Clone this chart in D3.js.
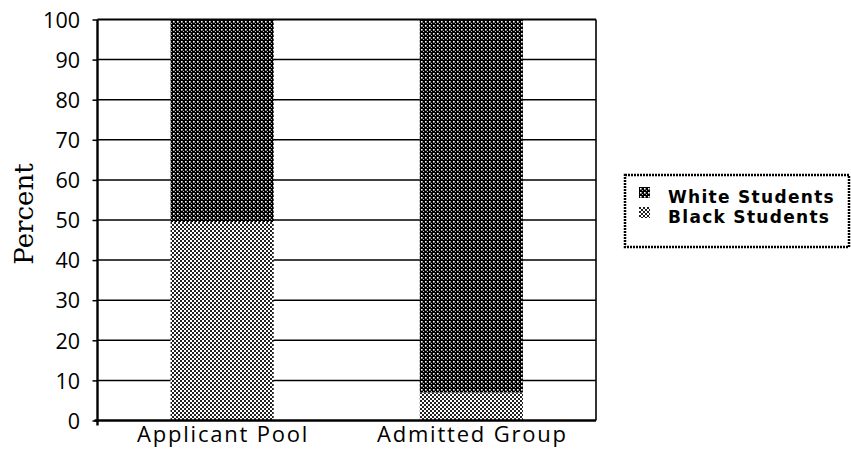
<!DOCTYPE html>
<html><head><meta charset="utf-8">
<script src="https://cdn.jsdelivr.net/npm/d3@7"></script>
<style>body{margin:0;background:#fff}</style>
</head><body>
<svg id="c" width="851" height="463"></svg>
<script>
const categories = ["Applicant Pool", "Admitted Group"];
const seriesNames = ["Black Students", "White Students"];
const blackValues = [49.5, 7];
const whiteValues = [50.5, 93];
const yTicks = [0,10,20,30,40,50,60,70,80,90,100];
const legendOrder = ["White Students", "Black Students"];

(function(){
const svg = d3.select("#c");
const mLeft = 97.5, mRight = 596, mTop = 19.5, mBottom = 420.5;
const defs = svg.append("defs");
const pd = defs.append("pattern").attr("id","pDark").attr("patternUnits","userSpaceOnUse").attr("width",4).attr("height",4);
pd.append("rect").attr("width",4).attr("height",4).attr("fill","#000");
pd.append("rect").attr("x",1).attr("y",1).attr("width",1.6).attr("height",1.6).attr("fill","#fff");
pd.append("rect").attr("x",3).attr("y",3).attr("width",1).attr("height",1).attr("fill","#bbb");
const pl = defs.append("pattern").attr("id","pLight").attr("patternUnits","userSpaceOnUse").attr("width",4).attr("height",4);
pl.append("rect").attr("width",4).attr("height",4).attr("fill","#fff");
pl.append("rect").attr("width",2).attr("height",2).attr("fill","#222");
pl.append("rect").attr("x",2).attr("y",2).attr("width",2).attr("height",2).attr("fill","#222");
const fills = {"White Students":"url(#pDark)","Black Students":"url(#pLight)"};

const x = d3.scaleBand().domain(categories).range([mLeft,mRight]).paddingInner(0.586).paddingOuter(0.293);
const y = d3.scaleLinear().domain([0,100]).range([mBottom,mTop]);

// gridlines
svg.append("g").selectAll("line").data(yTicks.filter(d=>d>0 && d<100)).join("line")
  .attr("x1",mLeft).attr("x2",mRight).attr("y1",d=>y(d)).attr("y2",d=>y(d))
  .attr("stroke","#000").attr("stroke-width",1.5);

// stacked bars
const rows = categories.map((c,i)=>({cat:c,"Black Students":blackValues[i],"White Students":whiteValues[i]}));
const stack = d3.stack().keys(seriesNames)(rows);
svg.append("g").selectAll("g").data(stack).join("g")
  .attr("fill",d=>fills[d.key])
  .selectAll("rect").data(d=>d).join("rect")
  .attr("x",d=>x(d.data.cat)).attr("width",x.bandwidth())
  .attr("y",d=>y(d[1])).attr("height",d=>y(d[0])-y(d[1]));

// frame
svg.append("line").attr("x1",mLeft).attr("x2",mRight).attr("y1",mTop).attr("y2",mTop).attr("stroke","#000").attr("stroke-width",2.2);
svg.append("line").attr("x1",mRight).attr("x2",mRight).attr("y1",mTop).attr("y2",mBottom).attr("stroke","#000").attr("stroke-width",1.6);
svg.append("line").attr("x1",mLeft-3).attr("x2",mRight).attr("y1",mBottom).attr("y2",mBottom).attr("stroke","#000").attr("stroke-width",2.4);

// y axis
const ya = svg.append("g").attr("transform",`translate(${mLeft},0)`)
  .call(d3.axisLeft(y).tickValues(yTicks).tickSize(5).tickPadding(12.5).tickFormat(d3.format("d")));
ya.select(".domain").attr("stroke-width",2.4).attr("d",`M0,${mTop}V${mBottom+5}`);
ya.selectAll(".tick line").attr("stroke-width",1.5);
ya.selectAll(".tick text").attr("font-family","'Open Sans', sans-serif").attr("font-size",21.5).attr("fill","#000").attr("dy","0.36em");

// x labels
svg.append("g").selectAll("text").data(categories).join("text")
  .attr("x",d=>x(d)+x.bandwidth()/2+1).attr("y",442)
  .attr("text-anchor","middle").attr("font-family","'Open Sans', sans-serif").attr("font-size",22)
  .attr("letter-spacing",1.8)
  .text(d=>d);

// y title
svg.append("text").attr("transform","translate(33,214) rotate(-90)")
  .attr("text-anchor","middle").attr("font-family","'DejaVu Serif', serif").attr("font-size",26)
  .text("Percent");

// legend
const lg = svg.append("g");
lg.append("rect").attr("x",625).attr("y",175).attr("width",224).attr("height",72)
  .attr("fill","#fff").attr("stroke","#000").attr("stroke-width",2.5).attr("stroke-dasharray","2,1");
lg.selectAll("g.item").data(legendOrder).join("g").attr("class","item")
  .attr("transform",(d,i)=>`translate(639,${187+i*20})`)
  .each(function(d){
    const g = d3.select(this);
    g.append("rect").attr("width",11).attr("height",11).attr("fill",fills[d]);
    g.append("text").attr("x",29).attr("y",16).attr("font-family","'DejaVu Sans', sans-serif")
      .attr("font-weight","bold").attr("font-size",17).attr("letter-spacing",1.3).text(d);
  });
})();
</script>
</body></html>
